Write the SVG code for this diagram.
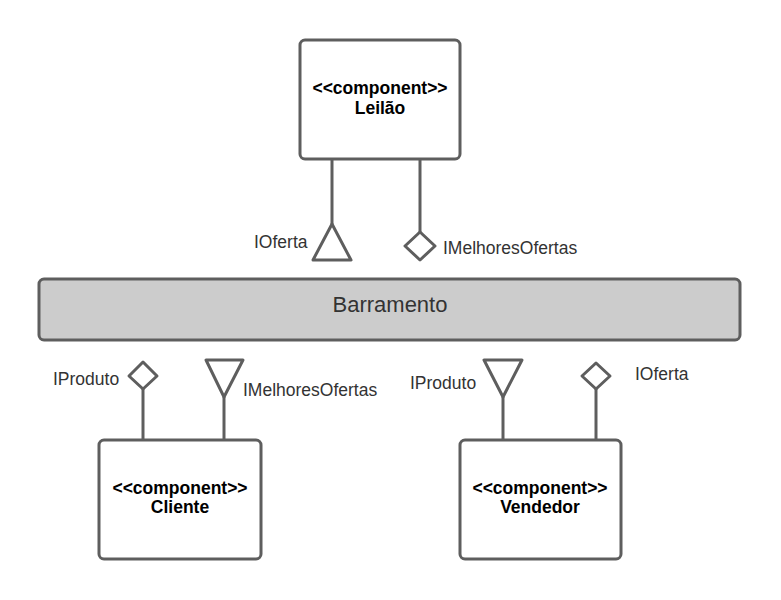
<svg xmlns="http://www.w3.org/2000/svg" width="781" height="600" viewBox="0 0 781 600">
<style>
.box{fill:#ffffff;stroke:#5e5e5e;stroke-width:3}
.bus{fill:#cccccc;stroke:#5e5e5e;stroke-width:3}
.ln{fill:none;stroke:#5e5e5e;stroke-width:3}
.sym{fill:#ffffff;stroke:#5e5e5e;stroke-width:3;stroke-linejoin:round}
.t{font-family:"Liberation Sans",Arial,sans-serif;font-size:17.5px;font-weight:bold;fill:#000000;text-anchor:middle}
.lbl{font-family:"Liberation Sans",Arial,sans-serif;font-size:17.5px;fill:#333333}
.bt{font-family:"Liberation Sans",Arial,sans-serif;font-size:22px;fill:#333333;text-anchor:middle}
</style>
<rect width="781" height="600" fill="#ffffff"/>
<g id="connectors">
<line class="ln" x1="332" y1="159" x2="332" y2="224"/>
<line class="ln" x1="420" y1="159" x2="420" y2="232"/>
<line class="ln" x1="143" y1="389" x2="143" y2="440"/>
<line class="ln" x1="224" y1="397" x2="224" y2="440"/>
<line class="ln" x1="503" y1="397" x2="503" y2="440"/>
<line class="ln" x1="596" y1="389" x2="596" y2="440"/>
</g>
<g id="leilao">
<rect class="box" x="300" y="40" width="160" height="119" rx="5"/>
<text class="t" x="380" y="94">&lt;&lt;component&gt;&gt;</text>
<text class="t" x="380" y="114">Leilão</text>
</g>
<g id="ioferta-leilao">
<polygon class="sym" points="332,224 351,260 313,260"/>
<text class="lbl" x="254" y="248">IOferta</text>
</g>
<g id="imelhores-leilao">
<polygon class="sym" points="420,232 435,246 420,260 405,246"/>
<text class="lbl" x="443" y="254">IMelhoresOfertas</text>
</g>
<g id="barramento">
<rect class="bus" x="39" y="279" width="701" height="61" rx="5"/>
<text class="bt" x="390" y="312">Barramento</text>
</g>
<g id="iproduto-cliente">
<polygon class="sym" points="143,362 157,376 143,389 129,376"/>
<text class="lbl" x="53" y="385">IProduto</text>
</g>
<g id="imelhores-cliente">
<polygon class="sym" points="206,360 243,360 224,397"/>
<text class="lbl" x="243" y="396">IMelhoresOfertas</text>
</g>
<g id="cliente">
<rect class="box" x="99" y="440" width="162" height="119" rx="5"/>
<text class="t" x="180" y="494">&lt;&lt;component&gt;&gt;</text>
<text class="t" x="180" y="513">Cliente</text>
</g>
<g id="iproduto-vendedor">
<polygon class="sym" points="484,360 522,360 503,397"/>
<text class="lbl" x="410" y="389">IProduto</text>
</g>
<g id="ioferta-vendedor">
<polygon class="sym" points="596,363 610,376 596,389 582,376"/>
<text class="lbl" x="635" y="380">IOferta</text>
</g>
<g id="vendedor">
<rect class="box" x="460" y="440" width="161" height="119" rx="5"/>
<text class="t" x="540" y="494">&lt;&lt;component&gt;&gt;</text>
<text class="t" x="540" y="513">Vendedor</text>
</g>
</svg>
